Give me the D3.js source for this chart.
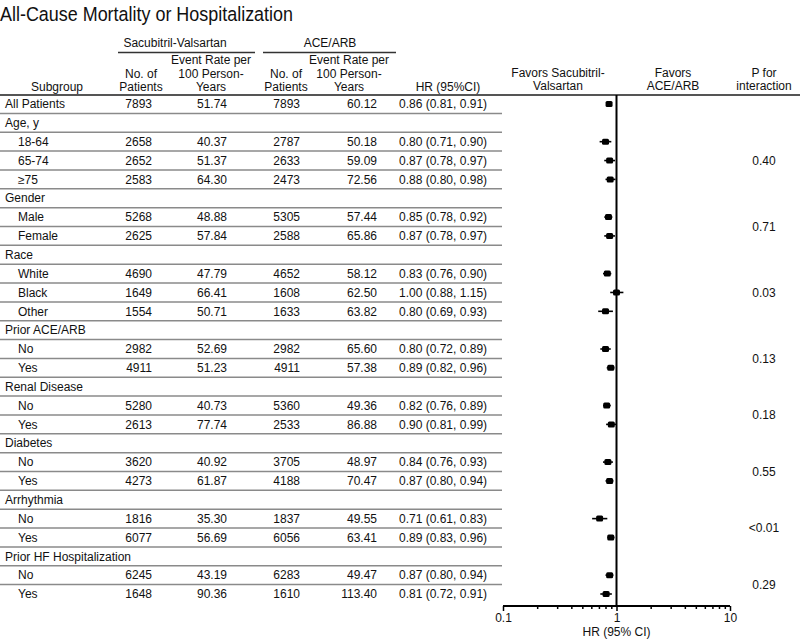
<!DOCTYPE html>
<html>
<head>
<meta charset="utf-8">
<script src="https://cdn.jsdelivr.net/npm/d3@7"></script>
<style>
html, body { margin: 0; background: #fff; }
svg { display: block; font-family: "Liberation Sans", Arial, sans-serif; }
text { fill: #111; }
</style>
</head>
<body>
<script>
// data
var subgroups = ["All Patients", "Age, y", "18-64", "65-74", "\u226575", "Gender", "Male", "Female",
  "Race", "White", "Black", "Other", "Prior ACE/ARB", "No", "Yes", "Renal Disease", "No", "Yes",
  "Diabetes", "No", "Yes", "Arrhythmia", "No", "Yes", "Prior HF Hospitalization", "No", "Yes"];
var sacN = [7893, null, 2658, 2652, 2583, null, 5268, 2625, null, 4690, 1649, 1554, null, 2982, 4911,
  null, 5280, 2613, null, 3620, 4273, null, 1816, 6077, null, 6245, 1648];
var sacRate = [51.74, null, 40.37, 51.37, 64.30, null, 48.88, 57.84, null, 47.79, 66.41, 50.71, null, 52.69, 51.23,
  null, 40.73, 77.74, null, 40.92, 61.87, null, 35.30, 56.69, null, 43.19, 90.36];
var aceN = [7893, null, 2787, 2633, 2473, null, 5305, 2588, null, 4652, 1608, 1633, null, 2982, 4911,
  null, 5360, 2533, null, 3705, 4188, null, 1837, 6056, null, 6283, 1610];
var aceRate = [60.12, null, 50.18, 59.09, 72.56, null, 57.44, 65.86, null, 58.12, 62.50, 63.82, null, 65.60, 57.38,
  null, 49.36, 86.88, null, 48.97, 70.47, null, 49.55, 63.41, null, 49.47, 113.40];
var hr = [0.86, null, 0.80, 0.87, 0.88, null, 0.85, 0.87, null, 0.83, 1.00, 0.80, null, 0.80, 0.89,
  null, 0.82, 0.90, null, 0.84, 0.87, null, 0.71, 0.89, null, 0.87, 0.81];
var hrLo = [0.81, null, 0.71, 0.78, 0.80, null, 0.78, 0.78, null, 0.76, 0.88, 0.69, null, 0.72, 0.82,
  null, 0.76, 0.81, null, 0.76, 0.80, null, 0.61, 0.83, null, 0.80, 0.72];
var hrHi = [0.91, null, 0.90, 0.97, 0.98, null, 0.92, 0.97, null, 0.90, 1.15, 0.93, null, 0.89, 0.96,
  null, 0.89, 0.99, null, 0.93, 0.94, null, 0.83, 0.96, null, 0.94, 0.91];
var pValues = ["0.40", "0.71", "0.03", "0.13", "0.18", "0.55", "<0.01", "0.29"];
var axisTicks = [0.1, 1, 10];

var width = 800, height = 640;
var f2 = d3.format(".2f");

var svg = d3.select("body").append("svg")
  .attr("width", width)
  .attr("height", height);

var x = d3.scaleLog().domain([0.1, 10]).range([503, 730]);
var y = d3.scaleLinear().domain([0, subgroups.length - 1]).range([104, 594]);
var rowH = y(1) - y(0);
var axisY = 606;

// title (the original font is narrow, so squeeze it to the same width)
svg.append("text")
  .attr("x", 0).attr("y", 21)
  .attr("textLength", 293).attr("lengthAdjust", "spacingAndGlyphs")
  .style("font-size", "20.5px")
  .text("All-Cause Mortality or Hospitalization");

// column headers
var hdr = svg.append("g").style("font-size", "12px").attr("text-anchor", "middle");
function multi(cx, lines, yLast) {
  lines.forEach(function(s, i) {
    hdr.append("text").attr("x", cx).attr("y", yLast - (lines.length - 1 - i) * 13.5).attr("dy", "0.35em").text(s);
  });
}
multi(175, ["Sacubitril-Valsartan"], 43);
multi(330, ["ACE/ARB"], 43);
multi(57, ["Subgroup"], 87);
multi(141, ["No. of", "Patients"], 87);
multi(211, ["Event Rate per", "100 Person-", "Years"], 87);
multi(286, ["No. of", "Patients"], 87);
multi(349, ["Event Rate per", "100 Person-", "Years"], 87);
multi(448, ["HR (95%CI)"], 87);
multi(558, ["Favors Sacubitril-", "Valsartan"], 86);
multi(673, ["Favors", "ACE/ARB"], 86);
multi(764, ["P for", "interaction"], 86);

svg.append("line").attr("x1", 118).attr("x2", 255).attr("y1", 52.5).attr("y2", 52.5)
  .attr("stroke", "#333").attr("stroke-width", 1.5);
svg.append("line").attr("x1", 263).attr("x2", 396).attr("y1", 52.5).attr("y2", 52.5)
  .attr("stroke", "#333").attr("stroke-width", 1.5);
svg.append("line").attr("x1", 0).attr("x2", width).attr("y1", 95).attr("y2", 95)
  .attr("stroke", "#555").attr("stroke-width", 2);

// row separators
svg.append("g").selectAll("line")
  .data(d3.range(subgroups.length - 1))
  .enter().append("line")
  .attr("x1", 0).attr("x2", 502)
  .attr("y1", function(i) { return y(i) + rowH / 2; })
  .attr("y2", function(i) { return y(i) + rowH / 2; })
  .attr("stroke", "#8a8a8a").attr("stroke-width", 1.5);

// table rows
var rows = svg.append("g").style("font-size", "12px")
  .selectAll("g").data(subgroups).enter().append("g")
  .attr("transform", function(d, i) { return "translate(0," + y(i) + ")"; });

rows.append("text")
  .attr("x", function(d, i) { return (i === 0 || sacN[i] === null) ? 5 : 18; })
  .attr("dy", "0.35em")
  .text(function(d) { return d; });

function col(arr, xr, fmt) {
  rows.append("text")
    .attr("x", xr).attr("dy", "0.35em").attr("text-anchor", "end")
    .text(function(d, i) { return arr[i] === null ? "" : fmt(arr[i]); });
}
col(sacN, 152, String);
col(sacRate, 227, f2);
col(aceN, 300, String);
col(aceRate, 377, f2);

rows.append("text")
  .attr("x", 399).attr("dy", "0.35em")
  .text(function(d, i) {
    return hr[i] === null ? "" : f2(hr[i]) + " (" + f2(hrLo[i]) + ", " + f2(hrHi[i]) + ")";
  });

// forest plot
var plot = svg.append("g");
plot.append("line")
  .attr("x1", x(1)).attr("x2", x(1)).attr("y1", 95).attr("y2", axisY)
  .attr("stroke", "#000").attr("stroke-width", 2);

var pts = plot.selectAll("g.pt")
  .data(d3.range(subgroups.length).filter(function(i) { return hr[i] !== null; }))
  .enter().append("g").attr("class", "pt");
pts.append("line")
  .attr("x1", function(i) { return x(hrLo[i]); })
  .attr("x2", function(i) { return x(hrHi[i]); })
  .attr("y1", function(i) { return y(i); })
  .attr("y2", function(i) { return y(i); })
  .attr("stroke", "#000").attr("stroke-width", 1.6);
pts.append("rect")
  .attr("x", function(i) { return x(hr[i]) - 3.5; })
  .attr("y", function(i) { return y(i) - 3; })
  .attr("width", 7).attr("height", 6).attr("rx", 1.5)
  .attr("fill", "#000");

// axis
var axis = d3.axisBottom(x)
  .tickValues(d3.range(1, 10).map(function(k) { return k / 10; })
    .concat(d3.range(1, 10)).concat([10]))
  .tickSize(3)
  .tickFormat(function(v) { return axisTicks.indexOf(v) >= 0 ? d3.format("~g")(v) : ""; });
var ax = svg.append("g").attr("transform", "translate(0," + axisY + ")").call(axis);
ax.select(".domain").attr("stroke", "#000").attr("stroke-width", 2).attr("d", "M" + x(0.1) + ",0H" + x(10));
ax.selectAll(".tick line").attr("stroke", "#000").attr("stroke-width", 1.5)
  .attr("y2", function(v) { return axisTicks.indexOf(v) >= 0 ? 5 : 3; });
ax.selectAll(".tick text").attr("y", 7).style("font-size", "12px")
  .style("font-family", "Liberation Sans, Arial, sans-serif").attr("fill", "#111");

svg.append("text")
  .attr("x", x(1)).attr("y", 636).attr("text-anchor", "middle")
  .style("font-size", "12px")
  .text("HR (95% CI)");

// p for interaction, centred on each group's rows
var groupStarts = d3.range(subgroups.length).filter(function(i) { return i > 0 && sacN[i] === null; });
svg.append("g").style("font-size", "12px").attr("text-anchor", "middle")
  .selectAll("text").data(groupStarts).enter().append("text")
  .attr("x", 764)
  .attr("y", function(s, k) {
    var end = k + 1 < groupStarts.length ? groupStarts[k + 1] - 1 : subgroups.length - 1;
    return (y(s + 1) + y(end)) / 2;
  })
  .attr("dy", "0.35em")
  .text(function(s, k) { return pValues[k]; });
</script>
</body>
</html>
